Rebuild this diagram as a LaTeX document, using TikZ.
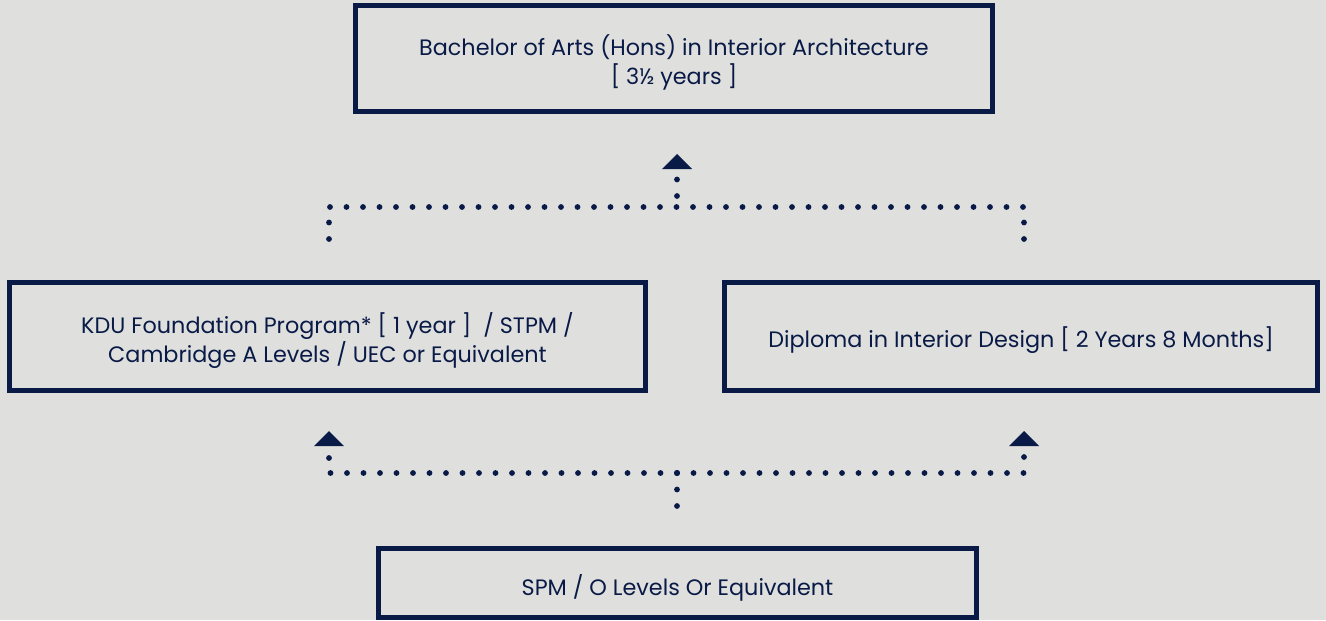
\documentclass[tikz,border=0pt]{standalone}
\usepackage{fontspec}
\setmainfont{Poppins}
\usetikzlibrary{arrows.meta}
\definecolor{navy}{HTML}{0A1A47}
\definecolor{paper}{HTML}{DFE0DD}
\begin{document}
\begin{tikzpicture}[
	box/.style={draw=navy, line width=0.1cm, inner sep=0pt},
	txt/.style={text=navy, align=center, inner sep=0pt, font=\fontsize{12.7}{16.5}\selectfont},
	dots/.style={navy, line width=0.115cm, line cap=round, dash pattern=on 0pt off 0.33cm},
	tip/.style={-{Triangle[width=0.6cm, length=0.3cm, line width=0pt]}}]
	\fill[paper] (0, 0) rectangle (26.52, 12.4);
	\useasboundingbox (0, 0) rectangle (26.52, 12.4);
	% the four stages
	\node[box, minimum width=12.74cm, minimum height=2.12cm] (bach) at (13.48, 11.23) {};
	\node[box, minimum width=12.72cm, minimum height=2.16cm] (found) at (6.55, 5.67) {};
	\node[box, minimum width=11.86cm, minimum height=2.16cm] (dip) at (20.42, 5.67) {};
	\node[box, minimum width=11.96cm, minimum height=1.38cm] (spm) at (13.55, 0.74) {};
	\node[txt] (bachtxt) at ([yshift=-0.07cm]bach)
		{Bachelor of Arts (Hons) in Interior Architecture\\ {[} 3½ years ]};
	\node[txt] (foundtxt) at ([yshift=-0.07cm]found)
		{KDU Foundation Program* [ 1 year ]~ / STPM /\\ Cambridge A Levels / UEC or Equivalent};
	\node[txt] (diptxt) at ([yshift=-0.07cm]dip) {Diploma in Interior Design [ 2 Years 8 Months]};
	\node[txt] (spmtxt) at ([yshift=-0.09cm]spm) {SPM / O Levels Or Equivalent};
	% dotted routes
	\coordinate (fl) at (6.58, 7.62);
	\coordinate (fr) at (20.48, 7.62);
	\coordinate (j1) at (13.54, 8.26);
	\coordinate (bt) at (13.54, 9.32);
	\coordinate (sb) at (13.54, 2.28);
	\coordinate (j2) at (13.54, 2.94);
	\coordinate (lt) at (6.58, 3.78);
	\coordinate (rt) at (20.48, 3.78);
	\draw[dots] (fl) |- (j1);
	\draw[dots] (fr) |- (j1);
	\draw[dots, tip, dash phase=0.11cm] (j1) -- (bt);
	\draw[dots] (sb) -- (j2);
	\draw[dots, tip] (j2) -| (lt);
	\draw[dots, tip] (j2) -| (rt);
\end{tikzpicture}
\end{document}
